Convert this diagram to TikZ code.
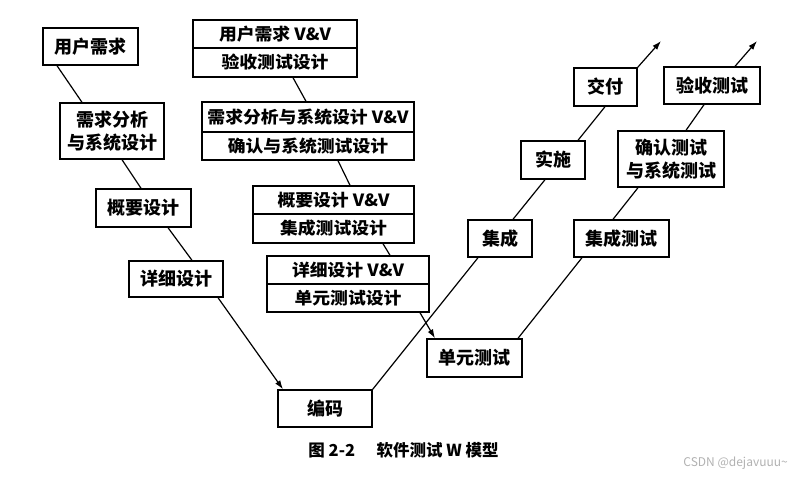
\documentclass[tikz,border=0pt]{standalone}
\usepackage{fontspec}
\setmainfont{Noto Sans CJK SC}
\newfontfamily\widecjk[FakeStretch=1.06]{Noto Sans CJK SC}
\usetikzlibrary{arrows.meta}
\tikzset{
  box/.style={draw=black, line width=1.4pt, fill=white, inner sep=0pt, align=center,
    font=\fontsize{18}{23}\selectfont\bfseries},
  halfbox/.style={box, font=\widecjk\fontsize{16.8}{20}\selectfont\bfseries},
  conn/.style={line width=1.2pt, draw=black},
  arr/.style={conn, -{Latex[length=9pt,width=6pt]}},
}
\begin{document}
\begin{tikzpicture}[x=1pt,y=-1pt]
\useasboundingbox (0,0) rectangle (802,487);
\fill[white] (0,0) rectangle (802,487);

% left descending line
\node[box, minimum width=95pt, minimum height=37pt] (u1) at (90.5,46.5) {用户需求};
\node[box, minimum width=104pt, minimum height=56pt] (u2) at (112,131) {需求分析\\与系统设计};
\node[box, minimum width=95pt, minimum height=38pt] (u3) at (143.5,208) {概要设计};
\node[box, minimum width=94pt, minimum height=36pt] (u4) at (176,279) {详细设计};
\node[box, minimum width=94pt, minimum height=37pt] (code) at (325,408.5) {编码};

% middle V&V boxes
\node[halfbox, minimum width=164pt, minimum height=28pt] (m1a) at (275,34) {用户需求 V\&V};
\node[halfbox, minimum width=164pt, minimum height=29pt] (m1b) at (275,62.5) {验收测试设计};
\node[halfbox, minimum width=212pt, minimum height=30pt] (m2a) at (308,117) {需求分析与系统设计 V\&V};
\node[halfbox, minimum width=212pt, minimum height=28pt] (m2b) at (308,146) {确认与系统测试设计};
\node[halfbox, minimum width=161pt, minimum height=28pt] (m3a) at (333.5,200) {概要设计 V\&V};
\node[halfbox, minimum width=161pt, minimum height=29pt] (m3b) at (333.5,228.5) {集成测试设计};
\node[halfbox, minimum width=162pt, minimum height=28pt] (m4a) at (348,270) {详细设计 V\&V};
\node[halfbox, minimum width=162pt, minimum height=28pt] (m4b) at (348,298) {单元测试设计};

% right ascending lines
\node[box, minimum width=95pt, minimum height=38pt] (ut) at (474.5,358) {单元测试};
\node[box, minimum width=64pt, minimum height=37pt] (jc) at (500,238.5) {集成};
\node[box, minimum width=64pt, minimum height=38pt] (ss) at (553,160) {实施};
\node[box, minimum width=63pt, minimum height=38pt] (jf) at (605.5,87) {交付};
\node[box, minimum width=95pt, minimum height=37pt] (jt) at (621.5,238.5) {集成测试};
\node[box, minimum width=106pt, minimum height=56pt] (qr) at (671,159) {确认测试\\与系统测试};
\node[box, minimum width=96pt, minimum height=37pt] (ys) at (712,85.5) {验收测试};

\coordinate (tipA) at (661,41);
\coordinate (tipB) at (757,41);

% connectors, left
\draw[conn] ([xshift=-33.5pt]u1.south) -- ([xshift=-30pt]u2.north);
\draw[conn] ([xshift=10pt]u2.south) -- ([xshift=-2.5pt]u3.north);
\draw[conn] ([xshift=24.5pt]u3.south) -- ([xshift=16pt]u4.north);
\draw[arr] ([xshift=42pt]u4.south) -- ([xshift=-42pt]code.north);

% connectors, middle
\draw[conn] ([xshift=18pt]m1b.south) -- ([xshift=-2pt]m2a.north);
\draw[conn] ([xshift=30pt]m2b.south) -- ([xshift=16.5pt]m3a.north);
\draw[conn] ([xshift=49.5pt]m3b.south) -- ([xshift=42pt]m4a.north);
\draw[arr] ([xshift=72pt]m4b.south) -- ([xshift=-39.5pt]ut.north);

% connectors, first rising line
\draw[conn] (code.north east) -- ([xshift=-22pt]jc.south);
\draw[conn] ([xshift=13pt]jc.north) -- ([xshift=-8pt]ss.south);
\draw[conn] ([xshift=25pt]ss.north) -- ([xshift=-0.5pt]jf.south);
\draw[arr] (jf.north east) -- (tipA);

% connectors, second rising line
\draw[conn] ([xshift=43.5pt]ut.north) -- ([xshift=-39.5pt]jt.south);
\draw[conn] ([xshift=-8.5pt]jt.north) -- ([xshift=-33pt]qr.south);
\draw[conn] ([xshift=15pt]qr.north) -- ([xshift=-8pt]ys.south);
\draw[arr] ([xshift=23pt]ys.north) -- (tipB);

% caption and watermark
\node[font=\fontsize{16.5}{19}\selectfont\bfseries, inner sep=0pt] (cap) at (403.5,450) {图 2-2\hspace{1.3em}软件测试 W 模型};
\node[font=\fontsize{12}{14}\selectfont, text=black!30, inner sep=0pt, anchor=east] (wm) at (788,463) {CSDN @dejavuuu\textasciitilde};
\end{tikzpicture}
\end{document}
